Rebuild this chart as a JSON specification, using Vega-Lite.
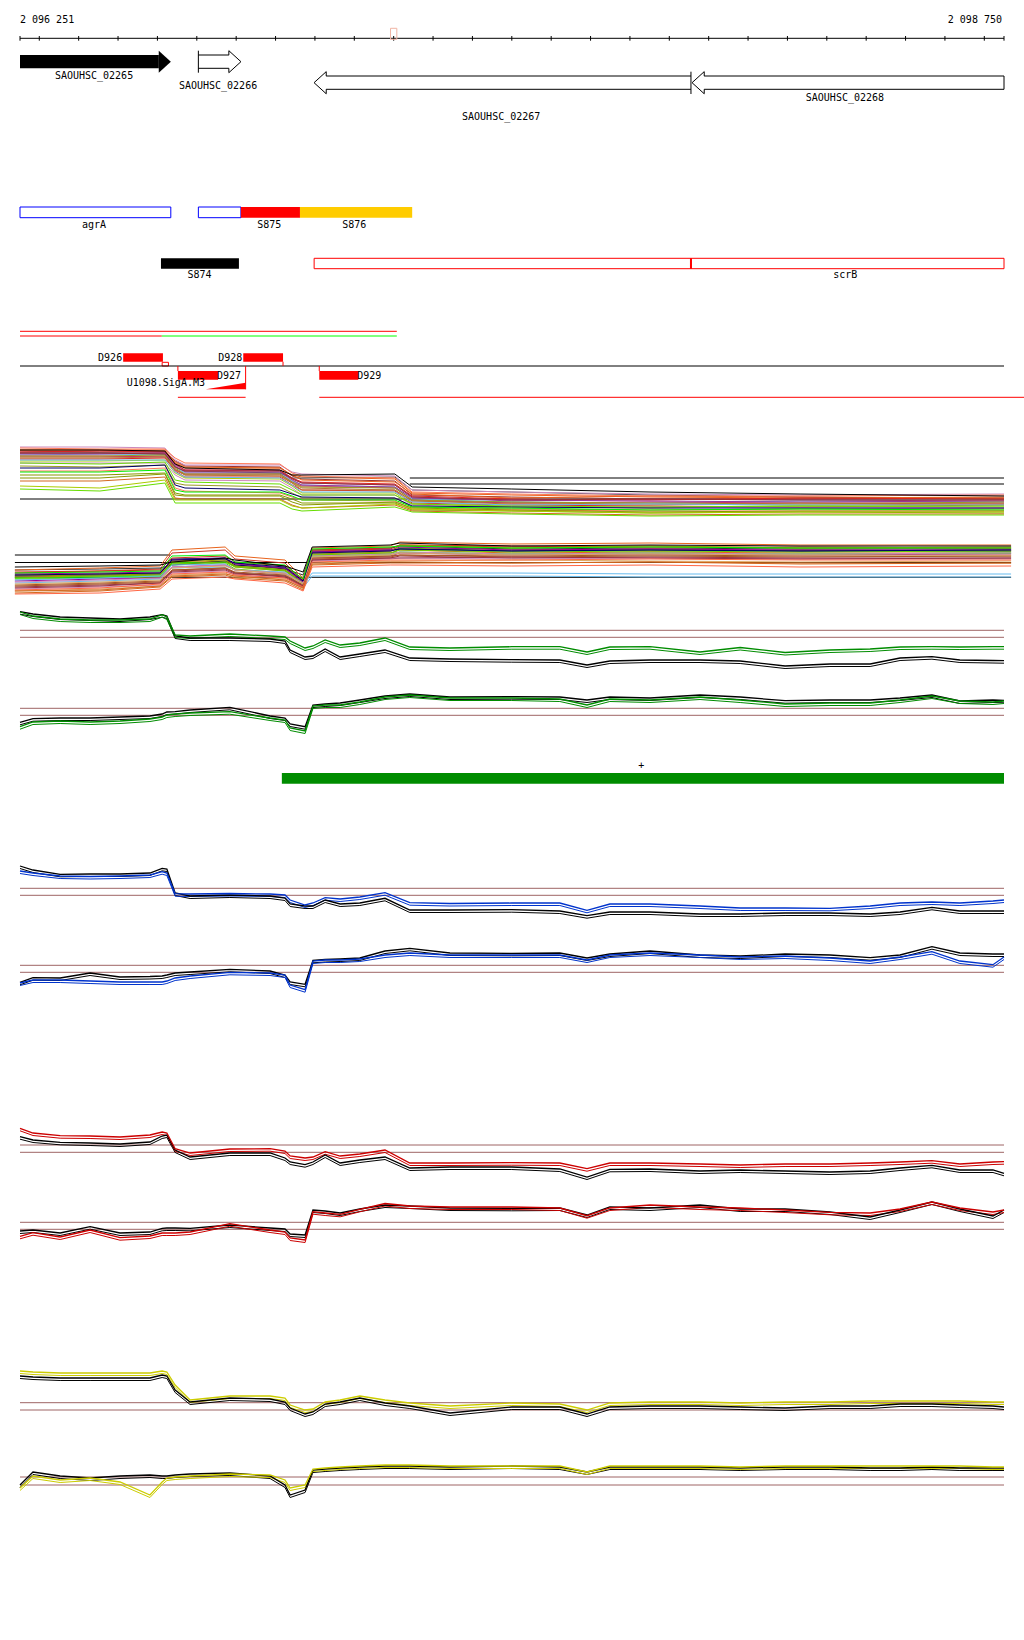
{
"$schema":"https://vega.github.io/schema/vega-lite/v6.json",
"width":1024,"height":1640,"padding":0,"autosize":"none","background":"white",
"config":{"view":{"stroke":null},"text":{"font":"DejaVu Sans Mono","fontSize":10,"color":"black"}},
"datasets":{
"genes":[
{"g":"SAOUHSC_02265","s":2096251,"e":2096634,"m":2096439,"str":"+"},
{"g":"SAOUHSC_02266","s":2096704,"e":2096812,"m":2096754,"str":"+"},
{"g":"SAOUHSC_02267","s":2096998,"e":2097955,"m":2097473,"str":"-"},
{"g":"SAOUHSC_02268","s":2097958,"e":2098750,"m":2098346,"str":"-"}],
"feat":[
{"f":"agrA","s":2096251,"e":2096634,"m":2096439},
{"f":"agr","s":2096704,"e":2096812,"m":2096758},
{"f":"S875","s":2096812,"e":2096962,"m":2096884},
{"f":"S876","s":2096962,"e":2097247,"m":2097100},
{"f":"S874","s":2096609,"e":2096807,"m":2096707},
{"f":"scrB","s":2096998,"e":2097955,"m":2097476},
{"f":"scrB","s":2097955,"e":2098750,"m":2098347},
{"f":"D926","s":2096513,"e":2096614,"m":2096563},
{"f":"D928","s":2096818,"e":2096919,"m":2096868},
{"f":"D927","s":2096652,"e":2096754,"m":2096703},
{"f":"D929","s":2097011,"e":2097110,"m":2097060}],
"cur":[
{"x":2096251,"gk_u":128.3,"gg_u":128,"gk_l":17.7,"gg_l":13.3,"bk_u":134,"bb_u":129,"bk_l":17.7,"bb_l":17,"rk_u":113.3,"rr_u":121.7,"rk_l":19,"rr_l":13.7,"yk_u":134,"yy_u":139,"yk_l":25,"yy_l":22},
{"x":2096284,"gk_u":126,"gg_u":124,"gk_l":21.3,"gg_l":18,"bk_u":130,"bb_u":127,"bk_l":22.3,"bb_l":20,"rk_u":110,"rr_u":117,"rk_l":20,"rr_l":17.3,"yk_u":133,"yy_u":138,"yk_l":38,"yy_l":34},
{"x":2096353,"gk_u":123,"gg_u":121,"gk_l":22,"gg_l":19,"bk_u":125.7,"bb_u":124,"bk_l":22,"bb_l":20,"rk_u":107.7,"rr_u":114.3,"rk_l":17,"rr_l":13,"yk_u":132,"yy_u":137,"yk_l":34,"yy_l":30},
{"x":2096429,"gk_u":122,"gg_u":120,"gk_l":22,"gg_l":18,"bk_u":126,"bb_u":123.5,"bk_l":27,"bb_l":19,"rk_u":107,"rr_u":114,"rk_l":23.3,"rr_l":20,"yk_u":132,"yy_u":137,"yk_l":32,"yy_l":32},
{"x":2096505,"gk_u":121,"gg_u":120,"gk_l":23,"gg_l":19,"bk_u":126,"bb_u":124,"bk_l":23,"bb_l":18,"rk_u":106,"rr_u":113,"rk_l":17,"rr_l":12.3,"yk_u":132,"yy_u":137,"yk_l":34,"yy_l":28},
{"x":2096581,"gk_u":123,"gg_u":121,"gk_l":24,"gg_l":21,"bk_u":127,"bb_u":125,"bk_l":23.5,"bb_l":18,"rk_u":108,"rr_u":115,"rk_l":18,"rr_l":14,"yk_u":132,"yy_u":137,"yk_l":35,"yy_l":15},
{"x":2096612,"gk_u":125.3,"gg_u":125.3,"gk_l":26,"gg_l":23,"bk_u":131.7,"bb_u":128.3,"bk_l":24,"bb_l":18,"rk_u":114,"rr_u":118,"rk_l":21.7,"rr_l":17,"yk_u":135,"yy_u":139,"yk_l":34,"yy_l":28},
{"x":2096624,"gk_u":124,"gg_u":123,"gk_l":28,"gg_l":25,"bk_u":131,"bb_u":127,"bk_l":25,"bb_l":19,"rk_u":115,"rr_u":117,"rk_l":22,"rr_l":17,"yk_u":134,"yy_u":138,"yk_l":34,"yy_l":32},
{"x":2096645,"gk_u":104,"gg_u":105,"gk_l":28.3,"gg_l":26,"bk_u":107,"bb_u":106.3,"bk_l":27,"bb_l":22,"rk_u":100,"rr_u":101.3,"rk_l":22,"rr_l":17,"yk_u":120,"yy_u":125,"yk_l":35,"yy_l":33},
{"x":2096683,"gk_u":102,"gg_u":104,"gk_l":30,"gg_l":27,"bk_u":104,"bb_u":106,"bk_l":28,"bb_l":24,"rk_u":93,"rr_u":97,"rk_l":21.7,"rr_l":18,"yk_u":108,"yy_u":110,"yk_l":36,"yy_l":34},
{"x":2096784,"gk_u":102,"gg_u":106,"gk_l":32.7,"gg_l":28.3,"bk_u":105,"bb_u":106.5,"bk_l":30.7,"bb_l":27.7,"rk_u":97,"rr_u":101,"rk_l":25,"rr_l":26.3,"yk_u":112,"yy_u":114,"yk_l":37,"yy_l":36},
{"x":2096886,"gk_u":101,"gg_u":104,"gk_l":24,"gg_l":22,"bk_u":104,"bb_u":106,"bk_l":29,"bb_l":27,"rk_u":97,"rr_u":101.3,"rk_l":22,"rr_l":20,"yk_u":111,"yy_u":114,"yk_l":34,"yy_l":35},
{"x":2096924,"gk_u":99,"gg_u":103,"gk_l":22,"gg_l":20,"bk_u":102,"bb_u":105,"bk_l":25,"bb_l":25,"rk_u":92,"rr_u":99,"rk_l":21,"rr_l":18,"yk_u":108,"yy_u":112,"yk_l":25,"yy_l":30},
{"x":2096937,"gk_u":90,"gg_u":99,"gk_l":16,"gg_l":12,"bk_u":96,"bb_u":100,"bk_l":18,"bb_l":15,"rk_u":88,"rr_u":94,"rk_l":16,"rr_l":12,"yk_u":102,"yy_u":105,"yk_l":15,"yy_l":22},
{"x":2096975,"gk_u":83,"gg_u":92,"gk_l":13.3,"gg_l":9,"bk_u":94,"bb_u":95,"bk_l":15.7,"bb_l":10.3,"rk_u":85.3,"rr_u":92,"rk_l":15,"rr_l":10,"yk_u":96,"yy_u":100,"yk_l":20,"yy_l":25},
{"x":2096995,"gk_u":84,"gg_u":94,"gk_l":35,"gg_l":34,"bk_u":94,"bb_u":97,"bk_l":39.7,"bb_l":39,"rk_u":88,"rr_u":93,"rk_l":40,"rr_l":38.3,"yk_u":98,"yy_u":101,"yk_l":40,"yy_l":41},
{"x":2097026,"gk_u":91,"gg_u":100,"gk_l":36,"gg_l":35,"bk_u":100,"bb_u":102.3,"bk_l":40.5,"bb_l":40,"rk_u":95,"rr_u":98.3,"rk_l":39,"rr_l":37,"yk_u":106,"yy_u":108,"yk_l":41,"yy_l":42},
{"x":2097064,"gk_u":83,"gg_u":95,"gk_l":37,"gg_l":35,"bk_u":96,"bb_u":101,"bk_l":41,"bb_l":40,"rk_u":87,"rr_u":94,"rk_l":37,"rr_l":35.7,"yk_u":108,"yy_u":110,"yk_l":42,"yy_l":43},
{"x":2097114,"gk_u":86,"gg_u":97,"gk_l":40,"gg_l":38,"bk_u":97,"bb_u":103,"bk_l":42,"bb_l":41,"rk_u":90,"rr_u":96,"rk_l":41,"rr_l":40.7,"yk_u":112,"yy_u":114,"yk_l":43,"yy_l":44},
{"x":2097178,"gk_u":90,"gg_u":102,"gk_l":44,"gg_l":43,"bk_u":101.7,"bb_u":107.3,"bk_l":49,"bb_l":45,"rk_u":93,"rr_u":100,"rk_l":45,"rr_l":46.5,"yk_u":107,"yy_u":110,"yk_l":44,"yy_l":45},
{"x":2097241,"gk_u":82,"gg_u":93,"gk_l":46,"gg_l":45,"bk_u":90,"bb_u":97.3,"bk_l":51.7,"bb_l":47,"rk_u":82,"rr_u":87,"rk_l":44,"rr_l":44,"yk_u":104,"yy_u":107,"yk_l":44,"yy_l":45},
{"x":2097343,"gk_u":81,"gg_u":92,"gk_l":43,"gg_l":42,"bk_u":90,"bb_u":96.5,"bk_l":47,"bb_l":45,"rk_u":83,"rr_u":87,"rk_l":42,"rr_l":43,"yk_u":97,"yy_u":104,"yk_l":43,"yy_l":44},
{"x":2097500,"gk_u":80.3,"gg_u":93.3,"gk_l":43.3,"gg_l":42,"bk_u":90.3,"bb_u":97,"bk_l":46.7,"bb_l":45,"rk_u":83,"rr_u":87.3,"rk_l":41.7,"rr_l":43,"yk_u":103,"yy_u":107,"yk_l":44,"yy_l":44},
{"x":2097622,"gk_u":80,"gg_u":93.3,"gk_l":43,"gg_l":41,"bk_u":89,"bb_u":97,"bk_l":47,"bb_l":45,"rk_u":81,"rr_u":87,"rk_l":42,"rr_l":42,"yk_u":103,"yy_u":106,"yk_l":43,"yy_l":44},
{"x":2097691,"gk_u":75,"gg_u":88,"gk_l":40,"gg_l":35,"bk_u":84.3,"bb_u":89.7,"bk_l":42,"bb_l":40,"rk_u":73,"rr_u":81.3,"rk_l":35,"rr_l":34.3,"yk_u":96,"yy_u":100,"yk_l":38,"yy_l":38},
{"x":2097749,"gk_u":79,"gg_u":93,"gk_l":43,"gg_l":41,"bk_u":88,"bb_u":96,"bk_l":46,"bb_l":45,"rk_u":80.7,"rr_u":87,"rk_l":43,"rr_l":42,"yk_u":103,"yy_u":107,"yk_l":43,"yy_l":44},
{"x":2097851,"gk_u":80,"gg_u":93.3,"gk_l":42,"gg_l":40,"bk_u":88,"bb_u":96,"bk_l":49,"bb_l":47,"rk_u":81,"rr_u":87,"rk_l":42,"rr_l":45,"yk_u":104,"yy_u":108,"yk_l":43,"yy_l":44},
{"x":2097978,"gk_u":80,"gg_u":88,"gk_l":45,"gg_l":43,"bk_u":86,"bb_u":94,"bk_l":45,"bb_l":45,"rk_u":79,"rr_u":86,"rk_l":45,"rr_l":43,"yk_u":104,"yy_u":108,"yk_l":43,"yy_l":44},
{"x":2098080,"gk_u":79,"gg_u":92.5,"gk_l":43,"gg_l":40,"bk_u":86,"bb_u":92,"bk_l":44,"bb_l":43,"rk_u":80,"rr_u":85,"rk_l":41,"rr_l":42,"yk_u":103,"yy_u":107,"yk_l":42,"yy_l":43},
{"x":2098194,"gk_u":74,"gg_u":87.5,"gk_l":39.3,"gg_l":36,"bk_u":87,"bb_u":92,"bk_l":46,"bb_l":44,"rk_u":79,"rr_u":86,"rk_l":41,"rr_l":40,"yk_u":102,"yy_u":108,"yk_l":43,"yy_l":44},
{"x":2098308,"gk_u":76,"gg_u":90,"gk_l":40,"gg_l":37,"bk_u":87,"bb_u":91.7,"bk_l":45,"bb_l":42,"rk_u":78,"rr_u":86,"rk_l":38,"rr_l":37.7,"yk_u":104,"yy_u":108,"yk_l":43,"yy_l":44},
{"x":2098410,"gk_u":76,"gg_u":91,"gk_l":40,"gg_l":37,"bk_u":86,"bb_u":94,"bk_l":42.3,"bb_l":39,"rk_u":79,"rr_u":87,"rk_l":33,"rr_l":37,"yk_u":104,"yy_u":109,"yk_l":42,"yy_l":44},
{"x":2098486,"gk_u":82,"gg_u":93,"gk_l":42,"gg_l":40,"bk_u":88,"bb_u":97,"bk_l":45,"bb_l":43,"rk_u":82,"rr_u":88,"rk_l":40,"rr_l":41,"yk_u":106,"yy_u":109,"yk_l":42,"yy_l":44},
{"x":2098567,"gk_u":83.3,"gg_u":93.3,"gk_l":45,"gg_l":44,"bk_u":92.7,"bb_u":98,"bk_l":53.3,"bb_l":48.3,"rk_u":84.7,"rr_u":89.3,"rk_l":48,"rr_l":48,"yk_u":106,"yy_u":109,"yk_l":43,"yy_l":44},
{"x":2098638,"gk_u":80,"gg_u":93,"gk_l":39,"gg_l":39,"bk_u":89,"bb_u":97,"bk_l":47,"bb_l":39,"rk_u":80,"rr_u":86,"rk_l":41,"rr_l":42,"yk_u":105,"yy_u":109,"yk_l":42,"yy_l":44},
{"x":2098722,"gk_u":79.5,"gg_u":93.3,"gk_l":40,"gg_l":38,"bk_u":89,"bb_u":99,"bk_l":46,"bb_l":35.3,"rk_u":80,"rr_u":88,"rk_l":34,"rr_l":38,"yk_u":104,"yy_u":108,"yk_l":42,"yy_l":43},
{"x":2098750,"gk_u":79.3,"gg_u":93.3,"gk_l":39.7,"gg_l":39,"bk_u":89,"bb_u":100,"bk_l":46,"bb_l":43,"rk_u":76.7,"rr_u":88.3,"rk_l":40,"rr_l":40,"yk_u":103,"yy_u":108,"yk_l":42,"yy_l":43}],
"top":[
{"x":2096251,"t1":73,"t2":70,"t3":68,"t4":66,"t5":64,"t6":62,"t7":60,"t8":57,"t9":52,"t10":48,"t11":42,"t12":34,"t13":72,"t14":67,"t15":70},
{"x":2096454,"t1":73,"t2":70,"t3":69,"t4":66,"t5":64,"t6":62,"t7":60,"t8":56,"t9":52,"t10":48,"t11":42,"t12":32,"t13":71,"t14":67,"t15":70},
{"x":2096619,"t1":72,"t2":70,"t3":68,"t4":67,"t5":65,"t6":63,"t7":60,"t8":58,"t9":55,"t10":50,"t11":46,"t12":40,"t13":71,"t14":66,"t15":69},
{"x":2096645,"t1":60,"t2":58,"t3":56,"t4":54,"t5":52,"t6":50,"t7":48,"t8":40,"t9":35,"t10":30,"t11":25,"t12":20,"t13":62,"t14":53,"t15":56},
{"x":2096670,"t1":55,"t2":53,"t3":50,"t4":48,"t5":46,"t6":45,"t7":43,"t8":38,"t9":32,"t10":28,"t11":24,"t12":20,"t13":57,"t14":49,"t15":52},
{"x":2096911,"t1":55,"t2":52,"t3":50,"t4":48,"t5":46,"t6":44,"t7":42,"t8":36,"t9":30,"t10":28,"t11":24,"t12":20,"t13":56,"t14":49,"t15":50},
{"x":2096942,"t1":48,"t2":45,"t3":42,"t4":40,"t5":38,"t6":37,"t7":35,"t8":30,"t9":26,"t10":24,"t11":18,"t12":14,"t13":47,"t14":41,"t15":45},
{"x":2096967,"t1":46,"t2":40,"t3":38,"t4":35,"t5":33,"t6":30,"t7":28,"t8":25,"t9":23,"t10":20,"t11":15,"t12":12,"t13":44,"t14":37,"t15":45},
{"x":2097203,"t1":44,"t2":38,"t3":36,"t4":33,"t5":32,"t6":30,"t7":28,"t8":25,"t9":22,"t10":20,"t11":18,"t12":16,"t13":42,"t14":35,"t15":46},
{"x":2097247,"t1":30,"t2":26,"t3":24,"t4":22,"t5":20,"t6":19,"t7":18,"t8":16,"t9":14,"t10":13,"t11":12,"t12":11,"t13":28,"t14":23,"t15":33},
{"x":2097500,"t1":28,"t2":22,"t3":21,"t4":20,"t5":18,"t6":16,"t7":15,"t8":14,"t9":13,"t10":12,"t11":10,"t12":9,"t13":26,"t14":20,"t15":31},
{"x":2097851,"t1":26,"t2":24,"t3":20,"t4":19,"t5":17,"t6":15,"t7":16,"t8":13,"t9":12,"t10":10,"t11":8,"t12":7,"t13":24,"t14":21,"t15":28},
{"x":2098232,"t1":25,"t2":23,"t3":22,"t4":18,"t5":16,"t6":17,"t7":15,"t8":14,"t9":12,"t10":11,"t11":9,"t12":8,"t13":24,"t14":20,"t15":26},
{"x":2098750,"t1":26,"t2":22,"t3":21,"t4":19,"t5":18,"t6":16,"t7":15,"t8":14,"t9":12,"t10":10,"t11":9,"t12":8,"t13":25,"t14":20,"t15":24}],
"bot":[
{"x":2096238,"b1":30,"b2":28,"b3":26,"b4":24,"b5":22,"b6":20,"b7":18,"b8":14,"b9":16,"b10":12,"b11":10,"b12":9,"b13":25,"b14":27,"b15":33},
{"x":2096454,"b1":32,"b2":29,"b3":27,"b4":25,"b5":24,"b6":22,"b7":20,"b8":16,"b9":18,"b10":14,"b11":12,"b12":10,"b13":26,"b14":28,"b15":34},
{"x":2096607,"b1":34,"b2":30,"b3":28,"b4":26,"b5":25,"b6":24,"b7":22,"b8":18,"b9":20,"b10":17,"b11":16,"b12":14,"b13":27,"b14":29,"b15":35},
{"x":2096637,"b1":50,"b2":42,"b3":40,"b4":38,"b5":36,"b6":35,"b7":33,"b8":30,"b9":32,"b10":28,"b11":26,"b12":24,"b13":40,"b14":44,"b15":38},
{"x":2096772,"b1":53,"b2":44,"b3":42,"b4":40,"b5":38,"b6":36,"b7":35,"b8":32,"b9":34,"b10":30,"b11":28,"b12":26,"b13":41,"b14":45,"b15":42},
{"x":2096797,"b1":44,"b2":38,"b3":36,"b4":34,"b5":33,"b6":30,"b7":30,"b8":28,"b9":30,"b10":26,"b11":25,"b12":24,"b13":37,"b14":38,"b15":40},
{"x":2096924,"b1":40,"b2":34,"b3":32,"b4":30,"b5":29,"b6":28,"b7":27,"b8":25,"b9":26,"b10":24,"b11":22,"b12":20,"b13":33,"b14":35,"b15":34},
{"x":2096970,"b1":22,"b2":20,"b3":18,"b4":16,"b5":17,"b6":15,"b7":17,"b8":15,"b9":16,"b10":14,"b11":13,"b12":12,"b13":19,"b14":21,"b15":28},
{"x":2096993,"b1":52,"b2":50,"b3":48,"b4":46,"b5":45,"b6":27,"b7":44,"b8":42,"b9":43,"b10":40,"b11":38,"b12":36,"b13":47,"b14":51,"b15":53},
{"x":2097191,"b1":54,"b2":52,"b3":50,"b4":48,"b5":47,"b6":27,"b7":46,"b8":44,"b9":45,"b10":42,"b11":40,"b12":38,"b13":49,"b14":53,"b15":55},
{"x":2097216,"b1":58,"b2":55,"b3":53,"b4":55,"b5":50,"b6":27,"b7":48,"b8":45,"b9":47,"b10":42,"b11":40,"b12":38,"b13":51,"b14":54,"b15":57},
{"x":2097500,"b1":56,"b2":54,"b3":50,"b4":52,"b5":48,"b6":27,"b7":46,"b8":44,"b9":45,"b10":43,"b11":40,"b12":37,"b13":49,"b14":52,"b15":54},
{"x":2097851,"b1":57,"b2":52,"b3":51,"b4":54,"b5":49,"b6":26,"b7":47,"b8":45,"b9":46,"b10":42,"b11":41,"b12":38,"b13":50,"b14":53,"b15":55},
{"x":2098232,"b1":55,"b2":53,"b3":50,"b4":52,"b5":48,"b6":26,"b7":46,"b8":44,"b9":45,"b10":41,"b11":40,"b12":36,"b13":49,"b14":52,"b15":54},
{"x":2098768,"b1":55,"b2":52,"b3":50,"b4":53,"b5":49,"b6":26,"b7":47,"b8":44,"b9":45,"b10":42,"b11":40,"b12":37,"b13":50,"b14":52,"b15":54}]
},
"resolve":{"scale":{"y":"independent","color":"independent"}},
"layer":[
{"layer":[
 {"data":{"values":[{"x":2096251},{"x":2096300},{"x":2096400},{"x":2096500},{"x":2096600},{"x":2096700},{"x":2096800},{"x":2096900},{"x":2097000},{"x":2097100},{"x":2097200},{"x":2097300},{"x":2097400},{"x":2097500},{"x":2097600},{"x":2097700},{"x":2097800},{"x":2097900},{"x":2098000},{"x":2098100},{"x":2098200},{"x":2098300},{"x":2098400},{"x":2098500},{"x":2098600},{"x":2098700},{"x":2098750}]},
  "mark":{"type":"rule","color":"black","strokeWidth":1},
  "encoding":{"x":{"field":"x","type":"quantitative","scale":{"domain":[2096251,2098750],"range":[20,1004],"nice":false,"zero":false},"axis":null},
   "y":{"datum":10,"type":"quantitative","scale":{"domain":[0,46],"range":[46,0],"nice":false},"axis":null},"y2":{"datum":5.3}}},
 {"data":{"values":[{"x":2096251,"x2":2098750}]},
  "mark":{"type":"rule","color":"black","strokeWidth":1},
  "encoding":{"x":{"field":"x","type":"quantitative","scale":{"domain":[2096251,2098750],"range":[20,1004],"nice":false,"zero":false},"axis":null},"x2":{"field":"x2"},
   "y":{"datum":7.7,"type":"quantitative","scale":{"domain":[0,46],"range":[46,0],"nice":false},"axis":null}}},
 {"data":{"values":[{"x":2096251,"t":"2 096 251"}]},
  "mark":{"type":"text","align":"left","baseline":"middle"},
  "encoding":{"x":{"field":"x","type":"quantitative","scale":{"domain":[2096251,2098750],"range":[20,1004],"nice":false,"zero":false},"axis":null},
   "y":{"datum":26,"type":"quantitative","scale":{"domain":[0,46],"range":[46,0],"nice":false},"axis":null},"text":{"field":"t"}}},
 {"data":{"values":[{"x":2098750,"t":"2 098 750"}]},
  "mark":{"type":"text","align":"right","baseline":"middle","dx":-2},
  "encoding":{"x":{"field":"x","type":"quantitative","scale":{"domain":[2096251,2098750],"range":[20,1004],"nice":false,"zero":false},"axis":null},
   "y":{"datum":26,"type":"quantitative","scale":{"domain":[0,46],"range":[46,0],"nice":false},"axis":null},"text":{"field":"t"}}},
 {"data":{"values":[{"x":2097192,"x2":2097208}]},
  "mark":{"type":"rect","fillOpacity":0,"stroke":"#F0B4A4","strokeWidth":1},
  "encoding":{"x":{"field":"x","type":"quantitative","scale":{"domain":[2096251,2098750],"range":[20,1004],"nice":false,"zero":false},"axis":null},"x2":{"field":"x2"},
   "y":{"datum":17.7,"type":"quantitative","scale":{"domain":[0,46],"range":[46,0],"nice":false},"axis":null},"y2":{"datum":6.7}}}
]},
{"layer":[
 {"data":{"name":"genes"},"transform":[{"filter":"datum.g=='SAOUHSC_02265'"}],
  "mark":{"type":"rect","color":"black","x2Offset":-12},
  "encoding":{"x":{"field":"s","type":"quantitative","scale":{"domain":[2096251,2098750],"range":[20,1004],"nice":false,"zero":false},"axis":null},"x2":{"field":"e"},
   "y":{"datum":75,"type":"quantitative","scale":{"domain":[0,100],"range":[130,30],"nice":false},"axis":null},"y2":{"datum":61.7}}},
 {"data":{"name":"genes"},"transform":[{"filter":"datum.g=='SAOUHSC_02265'"}],
  "mark":{"type":"point","shape":"M -0.55 -1 L 0.55 0 L -0.55 1 Z","size":484,"filled":true,"color":"black","opacity":1,"xOffset":-6},
  "encoding":{"x":{"field":"e","type":"quantitative","scale":{"domain":[2096251,2098750],"range":[20,1004],"nice":false,"zero":false},"axis":null},
   "y":{"datum":68.3,"type":"quantitative","scale":{"domain":[0,100],"range":[130,30],"nice":false},"axis":null}}},
 {"data":{"name":"genes"},"transform":[{"filter":"datum.g=='SAOUHSC_02266'"}],
  "mark":{"type":"rule","color":"black","x2Offset":-12},
  "encoding":{"x":{"field":"s","type":"quantitative","scale":{"domain":[2096251,2098750],"range":[20,1004],"nice":false,"zero":false},"axis":null},"x2":{"field":"e"},
   "y":{"datum":75,"type":"quantitative","scale":{"domain":[0,100],"range":[130,30],"nice":false},"axis":null}}},
 {"data":{"name":"genes"},"transform":[{"filter":"datum.g=='SAOUHSC_02266'"}],
  "mark":{"type":"rule","color":"black","x2Offset":-12},
  "encoding":{"x":{"field":"s","type":"quantitative","scale":{"domain":[2096251,2098750],"range":[20,1004],"nice":false,"zero":false},"axis":null},"x2":{"field":"e"},
   "y":{"datum":61.7,"type":"quantitative","scale":{"domain":[0,100],"range":[130,30],"nice":false},"axis":null}}},
 {"data":{"name":"genes"},"transform":[{"filter":"datum.g=='SAOUHSC_02266'"}],
  "mark":{"type":"rule","color":"black"},
  "encoding":{"x":{"field":"s","type":"quantitative","scale":{"domain":[2096251,2098750],"range":[20,1004],"nice":false,"zero":false},"axis":null},
   "y":{"datum":79.3,"type":"quantitative","scale":{"domain":[0,100],"range":[130,30],"nice":false},"axis":null},"y2":{"datum":57.3}}},
 {"data":{"name":"genes"},"transform":[{"filter":"datum.g=='SAOUHSC_02266'"}],
  "mark":{"type":"point","shape":"M -0.55 -0.6 L -0.55 -1 L 0.55 0 L -0.55 1 L -0.55 0.6","size":484,"filled":false,"color":"black","opacity":1,"strokeWidth":1,"xOffset":-6},
  "encoding":{"x":{"field":"e","type":"quantitative","scale":{"domain":[2096251,2098750],"range":[20,1004],"nice":false,"zero":false},"axis":null},
   "y":{"datum":68.3,"type":"quantitative","scale":{"domain":[0,100],"range":[130,30],"nice":false},"axis":null}}},
 {"data":{"name":"genes"},"transform":[{"filter":"datum.str=='-'"}],
  "mark":{"type":"rule","color":"black","xOffset":12},
  "encoding":{"x":{"field":"s","type":"quantitative","scale":{"domain":[2096251,2098750],"range":[20,1004],"nice":false,"zero":false},"axis":null},"x2":{"field":"e"},
   "y":{"datum":54,"type":"quantitative","scale":{"domain":[0,100],"range":[130,30],"nice":false},"axis":null}}},
 {"data":{"name":"genes"},"transform":[{"filter":"datum.str=='-'"}],
  "mark":{"type":"rule","color":"black","xOffset":12},
  "encoding":{"x":{"field":"s","type":"quantitative","scale":{"domain":[2096251,2098750],"range":[20,1004],"nice":false,"zero":false},"axis":null},"x2":{"field":"e"},
   "y":{"datum":40.7,"type":"quantitative","scale":{"domain":[0,100],"range":[130,30],"nice":false},"axis":null}}},
 {"data":{"name":"genes"},"transform":[{"filter":"datum.str=='-'"}],
  "mark":{"type":"point","shape":"M 0.55 -0.6 L 0.55 -1 L -0.55 0 L 0.55 1 L 0.55 0.6","size":490,"filled":false,"color":"black","opacity":1,"strokeWidth":1,"xOffset":6},
  "encoding":{"x":{"field":"s","type":"quantitative","scale":{"domain":[2096251,2098750],"range":[20,1004],"nice":false,"zero":false},"axis":null},
   "y":{"datum":47.3,"type":"quantitative","scale":{"domain":[0,100],"range":[130,30],"nice":false},"axis":null}}},
 {"data":{"name":"genes"},"transform":[{"filter":"datum.g=='SAOUHSC_02267'"}],
  "mark":{"type":"rule","color":"black"},
  "encoding":{"x":{"field":"e","type":"quantitative","scale":{"domain":[2096251,2098750],"range":[20,1004],"nice":false,"zero":false},"axis":null},
   "y":{"datum":58.3,"type":"quantitative","scale":{"domain":[0,100],"range":[130,30],"nice":false},"axis":null},"y2":{"datum":36}}},
 {"data":{"name":"genes"},"transform":[{"filter":"datum.g=='SAOUHSC_02268'"}],
  "mark":{"type":"rule","color":"black"},
  "encoding":{"x":{"field":"e","type":"quantitative","scale":{"domain":[2096251,2098750],"range":[20,1004],"nice":false,"zero":false},"axis":null},
   "y":{"datum":54,"type":"quantitative","scale":{"domain":[0,100],"range":[130,30],"nice":false},"axis":null},"y2":{"datum":40.7}}},
 {"data":{"name":"genes"},"transform":[{"filter":"datum.g=='SAOUHSC_02265'"}],
  "mark":{"type":"text","align":"center","baseline":"middle"},
  "encoding":{"x":{"field":"m","type":"quantitative","scale":{"domain":[2096251,2098750],"range":[20,1004],"nice":false,"zero":false},"axis":null},
   "y":{"datum":53.7,"type":"quantitative","scale":{"domain":[0,100],"range":[130,30],"nice":false},"axis":null},"text":{"field":"g"}}},
 {"data":{"name":"genes"},"transform":[{"filter":"datum.g=='SAOUHSC_02266'"}],
  "mark":{"type":"text","align":"center","baseline":"middle"},
  "encoding":{"x":{"field":"m","type":"quantitative","scale":{"domain":[2096251,2098750],"range":[20,1004],"nice":false,"zero":false},"axis":null},
   "y":{"datum":44.5,"type":"quantitative","scale":{"domain":[0,100],"range":[130,30],"nice":false},"axis":null},"text":{"field":"g"}}},
 {"data":{"name":"genes"},"transform":[{"filter":"datum.g=='SAOUHSC_02267'"}],
  "mark":{"type":"text","align":"center","baseline":"middle"},
  "encoding":{"x":{"field":"m","type":"quantitative","scale":{"domain":[2096251,2098750],"range":[20,1004],"nice":false,"zero":false},"axis":null},
   "y":{"datum":13,"type":"quantitative","scale":{"domain":[0,100],"range":[130,30],"nice":false},"axis":null},"text":{"field":"g"}}},
 {"data":{"name":"genes"},"transform":[{"filter":"datum.g=='SAOUHSC_02268'"}],
  "mark":{"type":"text","align":"center","baseline":"middle"},
  "encoding":{"x":{"field":"m","type":"quantitative","scale":{"domain":[2096251,2098750],"range":[20,1004],"nice":false,"zero":false},"axis":null},
   "y":{"datum":32,"type":"quantitative","scale":{"domain":[0,100],"range":[130,30],"nice":false},"axis":null},"text":{"field":"g"}}}
]},
{"layer":[
 {"data":{"name":"feat"},"transform":[{"filter":"datum.f=='agrA'||datum.f=='agr'"}],
  "mark":{"type":"rect","fillOpacity":0,"stroke":"#0000FF","strokeWidth":1},
  "encoding":{"x":{"field":"s","type":"quantitative","scale":{"domain":[2096251,2098750],"range":[20,1004],"nice":false,"zero":false},"axis":null},"x2":{"field":"e"},
   "y":{"datum":193,"type":"quantitative","scale":{"domain":[0,200],"range":[400,200],"nice":false},"axis":null},"y2":{"datum":182.3}}},
 {"data":{"name":"feat"},"transform":[{"filter":"datum.f=='S875'||datum.f=='S876'"}],
  "mark":{"type":"rect"},
  "encoding":{"x":{"field":"s","type":"quantitative","scale":{"domain":[2096251,2098750],"range":[20,1004],"nice":false,"zero":false},"axis":null},"x2":{"field":"e"},
   "y":{"datum":193,"type":"quantitative","scale":{"domain":[0,200],"range":[400,200],"nice":false},"axis":null},"y2":{"datum":182.3},
   "color":{"field":"f","type":"nominal","scale":{"domain":["S875","S876","S874","D926","D927","D928","D929"],"range":["#FF0000","#FFCC00","#000000","#FF0000","#FF0000","#FF0000","#FF0000"]},"legend":null}}},
 {"data":{"name":"feat"},"transform":[{"filter":"datum.f=='S874'"}],
  "mark":{"type":"rect"},
  "encoding":{"x":{"field":"s","type":"quantitative","scale":{"domain":[2096251,2098750],"range":[20,1004],"nice":false,"zero":false},"axis":null},"x2":{"field":"e"},
   "y":{"datum":141.7,"type":"quantitative","scale":{"domain":[0,200],"range":[400,200],"nice":false},"axis":null},"y2":{"datum":131.3},
   "color":{"field":"f","type":"nominal","scale":{"domain":["S875","S876","S874","D926","D927","D928","D929"],"range":["#FF0000","#FFCC00","#000000","#FF0000","#FF0000","#FF0000","#FF0000"]},"legend":null}}},
 {"data":{"name":"feat"},"transform":[{"filter":"datum.f=='scrB'"}],
  "mark":{"type":"rect","fillOpacity":0,"stroke":"#FF0000","strokeWidth":1},
  "encoding":{"x":{"field":"s","type":"quantitative","scale":{"domain":[2096251,2098750],"range":[20,1004],"nice":false,"zero":false},"axis":null},"x2":{"field":"e"},
   "y":{"datum":141.7,"type":"quantitative","scale":{"domain":[0,200],"range":[400,200],"nice":false},"axis":null},"y2":{"datum":131.3}}},
 {"data":{"name":"feat"},"transform":[{"filter":"datum.f=='scrB'&&datum.s>2097900"}],
  "mark":{"type":"rule","color":"#FF0000","strokeWidth":2},
  "encoding":{"x":{"field":"s","type":"quantitative","scale":{"domain":[2096251,2098750],"range":[20,1004],"nice":false,"zero":false},"axis":null},
   "y":{"datum":141.7,"type":"quantitative","scale":{"domain":[0,200],"range":[400,200],"nice":false},"axis":null},"y2":{"datum":131.3}}},
 {"data":{"name":"feat"},"transform":[{"filter":"datum.f=='D926'||datum.f=='D928'"}],
  "mark":{"type":"rect"},
  "encoding":{"x":{"field":"s","type":"quantitative","scale":{"domain":[2096251,2098750],"range":[20,1004],"nice":false,"zero":false},"axis":null},"x2":{"field":"e"},
   "y":{"datum":46.7,"type":"quantitative","scale":{"domain":[0,200],"range":[400,200],"nice":false},"axis":null},"y2":{"datum":38.3},
   "color":{"field":"f","type":"nominal","scale":{"domain":["S875","S876","S874","D926","D927","D928","D929"],"range":["#FF0000","#FFCC00","#000000","#FF0000","#FF0000","#FF0000","#FF0000"]},"legend":null}}},
 {"data":{"name":"feat"},"transform":[{"filter":"datum.f=='D927'||datum.f=='D929'"}],
  "mark":{"type":"rect"},
  "encoding":{"x":{"field":"s","type":"quantitative","scale":{"domain":[2096251,2098750],"range":[20,1004],"nice":false,"zero":false},"axis":null},"x2":{"field":"e"},
   "y":{"datum":29,"type":"quantitative","scale":{"domain":[0,200],"range":[400,200],"nice":false},"axis":null},"y2":{"datum":20.3},
   "color":{"field":"f","type":"nominal","scale":{"domain":["S875","S876","S874","D926","D927","D928","D929"],"range":["#FF0000","#FFCC00","#000000","#FF0000","#FF0000","#FF0000","#FF0000"]},"legend":null}}},
 {"data":{"values":[{"s":2096612,"e":2096628}]},
  "mark":{"type":"rect","fillOpacity":0,"stroke":"#FF0000","strokeWidth":1},
  "encoding":{"x":{"field":"s","type":"quantitative","scale":{"domain":[2096251,2098750],"range":[20,1004],"nice":false,"zero":false},"axis":null},"x2":{"field":"e"},
   "y":{"datum":37.7,"type":"quantitative","scale":{"domain":[0,200],"range":[400,200],"nice":false},"axis":null},"y2":{"datum":34}}},
 {"data":{"values":[{"s":2096251,"e":2097208}]},
  "mark":{"type":"rule","color":"#FF0000"},
  "encoding":{"x":{"field":"s","type":"quantitative","scale":{"domain":[2096251,2098750],"range":[20,1004],"nice":false,"zero":false},"axis":null},"x2":{"field":"e"},
   "y":{"datum":68.7,"type":"quantitative","scale":{"domain":[0,200],"range":[400,200],"nice":false},"axis":null}}},
 {"data":{"values":[{"s":2096251,"e":2096611}]},
  "mark":{"type":"rule","color":"#FF0000"},
  "encoding":{"x":{"field":"s","type":"quantitative","scale":{"domain":[2096251,2098750],"range":[20,1004],"nice":false,"zero":false},"axis":null},"x2":{"field":"e"},
   "y":{"datum":64,"type":"quantitative","scale":{"domain":[0,200],"range":[400,200],"nice":false},"axis":null}}},
 {"data":{"values":[{"s":2096611,"e":2097208}]},
  "mark":{"type":"rule","color":"#00FF00"},
  "encoding":{"x":{"field":"s","type":"quantitative","scale":{"domain":[2096251,2098750],"range":[20,1004],"nice":false,"zero":false},"axis":null},"x2":{"field":"e"},
   "y":{"datum":64,"type":"quantitative","scale":{"domain":[0,200],"range":[400,200],"nice":false},"axis":null}}},
 {"data":{"values":[{"s":2096251,"e":2098750}]},
  "mark":{"type":"rule","color":"black"},
  "encoding":{"x":{"field":"s","type":"quantitative","scale":{"domain":[2096251,2098750],"range":[20,1004],"nice":false,"zero":false},"axis":null},"x2":{"field":"e"},
   "y":{"datum":34,"type":"quantitative","scale":{"domain":[0,200],"range":[400,200],"nice":false},"axis":null}}},
 {"data":{"values":[{"s":2096652,"e":2096824},{"s":2097011,"e":2098801}]},
  "mark":{"type":"rule","color":"#FF0000"},
  "encoding":{"x":{"field":"s","type":"quantitative","scale":{"domain":[2096251,2098750],"range":[20,1004],"nice":false,"zero":false},"axis":null},"x2":{"field":"e"},
   "y":{"datum":2.7,"type":"quantitative","scale":{"domain":[0,200],"range":[400,200],"nice":false},"axis":null}}},
 {"data":{"name":"feat"},"transform":[{"filter":"datum.f=='D928'"}],
  "mark":{"type":"rule","color":"#FF0000"},
  "encoding":{"x":{"field":"e","type":"quantitative","scale":{"domain":[2096251,2098750],"range":[20,1004],"nice":false,"zero":false},"axis":null},
   "y":{"datum":38.3,"type":"quantitative","scale":{"domain":[0,200],"range":[400,200],"nice":false},"axis":null},"y2":{"datum":34}}},
 {"data":{"name":"feat"},"transform":[{"filter":"datum.f=='D927'||datum.f=='D929'"}],
  "mark":{"type":"rule","color":"#FF0000"},
  "encoding":{"x":{"field":"s","type":"quantitative","scale":{"domain":[2096251,2098750],"range":[20,1004],"nice":false,"zero":false},"axis":null},
   "y":{"datum":34,"type":"quantitative","scale":{"domain":[0,200],"range":[400,200],"nice":false},"axis":null},"y2":{"datum":29}}},
 {"data":{"values":[{"s":2096824}]},
  "mark":{"type":"rule","color":"#FF0000"},
  "encoding":{"x":{"field":"s","type":"quantitative","scale":{"domain":[2096251,2098750],"range":[20,1004],"nice":false,"zero":false},"axis":null},
   "y":{"datum":34,"type":"quantitative","scale":{"domain":[0,200],"range":[400,200],"nice":false},"axis":null},"y2":{"datum":10.7}}},
 {"data":{"values":[{"x":2096723,"h":10.7},{"x":2096824,"h":17.3}]},
  "mark":{"type":"area","color":"#FF0000","opacity":1},
  "encoding":{"x":{"field":"x","type":"quantitative","scale":{"domain":[2096251,2098750],"range":[20,1004],"nice":false,"zero":false},"axis":null},
   "y":{"field":"h","type":"quantitative","scale":{"domain":[0,200],"range":[400,200],"nice":false},"axis":null},"y2":{"datum":10.7}}},
 {"data":{"name":"feat"},"transform":[{"filter":"datum.f=='agrA'||datum.f=='S875'||datum.f=='S876'"}],
  "mark":{"type":"text","align":"center","baseline":"middle"},
  "encoding":{"x":{"field":"m","type":"quantitative","scale":{"domain":[2096251,2098750],"range":[20,1004],"nice":false,"zero":false},"axis":null},
   "y":{"datum":175.5,"type":"quantitative","scale":{"domain":[0,200],"range":[400,200],"nice":false},"axis":null},"text":{"field":"f"}}},
 {"data":{"name":"feat"},"transform":[{"filter":"datum.f=='S874'||(datum.f=='scrB'&&datum.s>2097900)"}],
  "mark":{"type":"text","align":"center","baseline":"middle"},
  "encoding":{"x":{"field":"m","type":"quantitative","scale":{"domain":[2096251,2098750],"range":[20,1004],"nice":false,"zero":false},"axis":null},
   "y":{"datum":124.8,"type":"quantitative","scale":{"domain":[0,200],"range":[400,200],"nice":false},"axis":null},"text":{"field":"f"}}},
 {"data":{"name":"feat"},"transform":[{"filter":"datum.f=='D926'||datum.f=='D928'"}],
  "mark":{"type":"text","align":"right","baseline":"middle","dx":-1},
  "encoding":{"x":{"field":"s","type":"quantitative","scale":{"domain":[2096251,2098750],"range":[20,1004],"nice":false,"zero":false},"axis":null},
   "y":{"datum":42.5,"type":"quantitative","scale":{"domain":[0,200],"range":[400,200],"nice":false},"axis":null},"text":{"field":"f"}}},
 {"data":{"name":"feat"},"transform":[{"filter":"datum.f=='D927'||datum.f=='D929'"}],
  "mark":{"type":"text","align":"left","baseline":"middle","dx":-1},
  "encoding":{"x":{"field":"e","type":"quantitative","scale":{"domain":[2096251,2098750],"range":[20,1004],"nice":false,"zero":false},"axis":null},
   "y":{"datum":24.5,"type":"quantitative","scale":{"domain":[0,200],"range":[400,200],"nice":false},"axis":null},"text":{"field":"f"}}},
 {"data":{"values":[{"x":2096522,"t":"U1098.SigA.M3"}]},
  "mark":{"type":"text","align":"left","baseline":"middle"},
  "encoding":{"x":{"field":"x","type":"quantitative","scale":{"domain":[2096251,2098750],"range":[20,1004],"nice":false,"zero":false},"axis":null},
   "y":{"datum":16.7,"type":"quantitative","scale":{"domain":[0,200],"range":[400,200],"nice":false},"axis":null},"text":{"field":"t"}}}
]},
{"resolve":{"scale":{"color":"independent"}},"layer":[
 {"data":{"values":[{"s":2096251,"e":2098750,"r":21},{"s":2097241,"e":2098750,"r":42},{"s":2097241,"e":2098750,"r":36}]},
  "mark":{"type":"rule","color":"black"},
  "encoding":{"x":{"field":"s","type":"quantitative","scale":{"domain":[2096251,2098750],"range":[20,1004],"nice":false,"zero":false},"axis":null},"x2":{"field":"e"},
   "y":{"field":"r","type":"quantitative","scale":{"domain":[0,100],"range":[520,420],"nice":false},"axis":null}}},
 {"data":{"name":"top"},"transform":[{"fold":["t1","t2","t3","t4","t5","t6","t7","t8","t9","t10","t11","t12","t13","t14","t15"],"as":["s","v"]}],
  "mark":{"type":"line","strokeWidth":1,"yOffset":3},
  "encoding":{"x":{"field":"x","type":"quantitative","scale":{"domain":[2096251,2098750],"range":[20,1004],"nice":false,"zero":false},"axis":null},
   "y":{"field":"v","type":"quantitative","scale":{"domain":[0,100],"range":[520,420],"nice":false},"axis":null},
   "color":{"field":"s","type":"nominal","scale":{"domain":["t1","t2","t3","t4","t5","t6","t7","t8","t9","t10","t11","t12","t13","t14","t15"],"range":["#E8641E","#993399","#66BBEE","#B87333","#DD2222","#AACC00","#CC88BB","#999922","#FF7755","#889900","#D2691E","#66DD00","#993333","#CC3366","#555555"]},"legend":null}}},
 {"data":{"name":"top"},"transform":[{"fold":["t1","t2","t3","t4","t5","t6","t7","t8","t9","t10","t11","t12","t13","t14","t15"],"as":["s","v"]}],
  "mark":{"type":"line","strokeWidth":1},
  "encoding":{"x":{"field":"x","type":"quantitative","scale":{"domain":[2096251,2098750],"range":[20,1004],"nice":false,"zero":false},"axis":null},
   "y":{"field":"v","type":"quantitative","scale":{"domain":[0,100],"range":[520,420],"nice":false},"axis":null},
   "color":{"field":"s","type":"nominal","scale":{"domain":["t1","t2","t3","t4","t5","t6","t7","t8","t9","t10","t11","t12","t13","t14","t15"],"range":["#CC88BB","#E8641E","#DD2222","#993399","#999922","#B87333","#66BBEE","#66DD00","#000066","#00EE00","#889900","#AACC00","#FF7755","#993333","#000000"]},"legend":null}}}
]},
{"resolve":{"scale":{"color":"independent"}},"layer":[
 {"data":{"values":[{"s":2096238,"e":2096632,"r":45},{"s":2096238,"e":2098768,"r":37.5},{"s":2096238,"e":2098768,"r":22.7}]},
  "mark":{"type":"rule","color":"black"},
  "encoding":{"x":{"field":"s","type":"quantitative","scale":{"domain":[2096251,2098750],"range":[20,1004],"nice":false,"zero":false},"axis":null},"x2":{"field":"e"},
   "y":{"field":"r","type":"quantitative","scale":{"domain":[0,100],"range":[600,500],"nice":false},"axis":null}}},
 {"data":{"name":"bot"},"transform":[{"fold":["b1","b2","b3","b4","b5","b6","b7","b8","b9","b10","b11","b12","b13","b14","b15"],"as":["s","v"]}],
  "mark":{"type":"line","strokeWidth":1,"yOffset":3},
  "encoding":{"x":{"field":"x","type":"quantitative","scale":{"domain":[2096251,2098750],"range":[20,1004],"nice":false,"zero":false},"axis":null},
   "y":{"field":"v","type":"quantitative","scale":{"domain":[0,100],"range":[600,500],"nice":false},"axis":null},
   "color":{"field":"s","type":"nominal","scale":{"domain":["b1","b2","b3","b4","b5","b6","b7","b8","b9","b10","b11","b12","b13","b14","b15"],"range":["#CC3322","#999900","#E8641E","#66CC00","#990099","#66BBEE","#AA5522","#CC88BB","#993344","#DDAA66","#D2691E","#FF6644","#00EE00","#000066","#333333"]},"legend":null}}},
 {"data":{"name":"bot"},"transform":[{"fold":["b1","b2","b3","b4","b5","b6","b7","b8","b9","b10","b11","b12","b13","b14","b15"],"as":["s","v"]}],
  "mark":{"type":"line","strokeWidth":1},
  "encoding":{"x":{"field":"x","type":"quantitative","scale":{"domain":[2096251,2098750],"range":[20,1004],"nice":false,"zero":false},"axis":null},
   "y":{"field":"v","type":"quantitative","scale":{"domain":[0,100],"range":[600,500],"nice":false},"axis":null},
   "color":{"field":"s","type":"nominal","scale":{"domain":["b1","b2","b3","b4","b5","b6","b7","b8","b9","b10","b11","b12","b13","b14","b15"],"range":["#E8641E","#CC3322","#990099","#999900","#66CC00","#66BBEE","#CC88BB","#AA5522","#DDAA66","#993344","#FF6644","#D2691E","#000066","#00EE00","#000000"]},"legend":null}}}
]},
{"layer":[
 {"data":{"values":[{"r":109.7},{"r":102.7},{"r":31.7},{"r":24.7}]},
  "mark":{"type":"rule","color":"#9E6464"},
  "encoding":{"x":{"datum":2096251,"type":"quantitative","scale":{"domain":[2096251,2098750],"range":[20,1004],"nice":false,"zero":false},"axis":null},"x2":{"datum":2098750},
   "y":{"field":"r","type":"quantitative","scale":{"domain":[0,140],"range":[740,600],"nice":false},"axis":null}}},
 {"data":{"name":"cur"},"transform":[{"fold":["gk_u","gg_u","gk_l","gg_l"],"as":["s","v"]}],
  "mark":{"type":"line","strokeWidth":1,"yOffset":2.5},
  "encoding":{"x":{"field":"x","type":"quantitative","scale":{"domain":[2096251,2098750],"range":[20,1004],"nice":false,"zero":false},"axis":null},
   "y":{"field":"v","type":"quantitative","scale":{"domain":[0,140],"range":[740,600],"nice":false},"axis":null},
   "color":{"field":"s","type":"nominal","scale":{"domain":["gk_u","gg_u","gk_l","gg_l"],"range":["#000000","#008C00","#000000","#008C00"]},"legend":null}}},
 {"data":{"name":"cur"},"transform":[{"fold":["gk_u","gg_u","gk_l","gg_l"],"as":["s","v"]}],
  "mark":{"type":"line","strokeWidth":1.3},
  "encoding":{"x":{"field":"x","type":"quantitative","scale":{"domain":[2096251,2098750],"range":[20,1004],"nice":false,"zero":false},"axis":null},
   "y":{"field":"v","type":"quantitative","scale":{"domain":[0,140],"range":[740,600],"nice":false},"axis":null},
   "color":{"field":"s","type":"nominal","scale":{"domain":["gk_u","gg_u","gk_l","gg_l"],"range":["#000000","#008C00","#000000","#008C00"]},"legend":null}}},
 {"data":{"values":[{"s":2096916,"e":2098750}]},
  "mark":{"type":"rect","color":"#008C00"},
  "encoding":{"x":{"field":"s","type":"quantitative","scale":{"domain":[2096251,2098750],"range":[20,1004],"nice":false,"zero":false},"axis":null},"x2":{"field":"e"},
   "y":{"datum":-33,"type":"quantitative","scale":{"domain":[0,140],"range":[740,600],"nice":false},"axis":null},"y2":{"datum":-43.7}}},
 {"data":{"values":[{"x":2097829,"t":"+"}]},
  "mark":{"type":"text","align":"center","baseline":"middle"},
  "encoding":{"x":{"field":"x","type":"quantitative","scale":{"domain":[2096251,2098750],"range":[20,1004],"nice":false,"zero":false},"axis":null},
   "y":{"datum":-26,"type":"quantitative","scale":{"domain":[0,140],"range":[740,600],"nice":false},"axis":null},"text":{"field":"t"}}}
]},
{"layer":[
 {"data":{"values":[{"r":111.7},{"r":104.7},{"r":34.7},{"r":27.7}]},
  "mark":{"type":"rule","color":"#9E6464"},
  "encoding":{"x":{"datum":2096251,"type":"quantitative","scale":{"domain":[2096251,2098750],"range":[20,1004],"nice":false,"zero":false},"axis":null},"x2":{"datum":2098750},
   "y":{"field":"r","type":"quantitative","scale":{"domain":[0,140],"range":[1000,860],"nice":false},"axis":null}}},
 {"data":{"name":"cur"},"transform":[{"fold":["bk_u","bb_u","bk_l","bb_l"],"as":["s","v"]}],
  "mark":{"type":"line","strokeWidth":1,"yOffset":2.5},
  "encoding":{"x":{"field":"x","type":"quantitative","scale":{"domain":[2096251,2098750],"range":[20,1004],"nice":false,"zero":false},"axis":null},
   "y":{"field":"v","type":"quantitative","scale":{"domain":[0,140],"range":[1000,860],"nice":false},"axis":null},
   "color":{"field":"s","type":"nominal","scale":{"domain":["bk_u","bb_u","bk_l","bb_l"],"range":["#000000","#0033CC","#000000","#0033CC"]},"legend":null}}},
 {"data":{"name":"cur"},"transform":[{"fold":["bk_u","bb_u","bk_l","bb_l"],"as":["s","v"]}],
  "mark":{"type":"line","strokeWidth":1.3},
  "encoding":{"x":{"field":"x","type":"quantitative","scale":{"domain":[2096251,2098750],"range":[20,1004],"nice":false,"zero":false},"axis":null},
   "y":{"field":"v","type":"quantitative","scale":{"domain":[0,140],"range":[1000,860],"nice":false},"axis":null},
   "color":{"field":"s","type":"nominal","scale":{"domain":["bk_u","bb_u","bk_l","bb_l"],"range":["#000000","#0033CC","#000000","#0033CC"]},"legend":null}}}
]},
{"layer":[
 {"data":{"values":[{"r":105},{"r":97.7},{"r":27.7},{"r":20.7}]},
  "mark":{"type":"rule","color":"#9E6464"},
  "encoding":{"x":{"datum":2096251,"type":"quantitative","scale":{"domain":[2096251,2098750],"range":[20,1004],"nice":false,"zero":false},"axis":null},"x2":{"datum":2098750},
   "y":{"field":"r","type":"quantitative","scale":{"domain":[0,140],"range":[1250,1110],"nice":false},"axis":null}}},
 {"data":{"name":"cur"},"transform":[{"fold":["rk_u","rr_u","rk_l","rr_l"],"as":["s","v"]}],
  "mark":{"type":"line","strokeWidth":1,"yOffset":2.5},
  "encoding":{"x":{"field":"x","type":"quantitative","scale":{"domain":[2096251,2098750],"range":[20,1004],"nice":false,"zero":false},"axis":null},
   "y":{"field":"v","type":"quantitative","scale":{"domain":[0,140],"range":[1250,1110],"nice":false},"axis":null},
   "color":{"field":"s","type":"nominal","scale":{"domain":["rk_u","rr_u","rk_l","rr_l"],"range":["#000000","#CC0000","#000000","#CC0000"]},"legend":null}}},
 {"data":{"name":"cur"},"transform":[{"fold":["rk_u","rr_u","rk_l","rr_l"],"as":["s","v"]}],
  "mark":{"type":"line","strokeWidth":1.3},
  "encoding":{"x":{"field":"x","type":"quantitative","scale":{"domain":[2096251,2098750],"range":[20,1004],"nice":false,"zero":false},"axis":null},
   "y":{"field":"v","type":"quantitative","scale":{"domain":[0,140],"range":[1250,1110],"nice":false},"axis":null},
   "color":{"field":"s","type":"nominal","scale":{"domain":["rk_u","rr_u","rk_l","rr_l"],"range":["#000000","#CC0000","#000000","#CC0000"]},"legend":null}}}
]},
{"layer":[
 {"data":{"values":[{"r":107.3},{"r":100},{"r":33},{"r":25}]},
  "mark":{"type":"rule","color":"#9E6464"},
  "encoding":{"x":{"datum":2096251,"type":"quantitative","scale":{"domain":[2096251,2098750],"range":[20,1004],"nice":false,"zero":false},"axis":null},"x2":{"datum":2098750},
   "y":{"field":"r","type":"quantitative","scale":{"domain":[0,150],"range":[1510,1360],"nice":false},"axis":null}}},
 {"data":{"name":"cur"},"transform":[{"fold":["yk_u","yy_u","yk_l","yy_l"],"as":["s","v"]}],
  "mark":{"type":"line","strokeWidth":1,"yOffset":2.5},
  "encoding":{"x":{"field":"x","type":"quantitative","scale":{"domain":[2096251,2098750],"range":[20,1004],"nice":false,"zero":false},"axis":null},
   "y":{"field":"v","type":"quantitative","scale":{"domain":[0,150],"range":[1510,1360],"nice":false},"axis":null},
   "color":{"field":"s","type":"nominal","scale":{"domain":["yk_u","yy_u","yk_l","yy_l"],"range":["#000000","#CCCC00","#000000","#CCCC00"]},"legend":null}}},
 {"data":{"name":"cur"},"transform":[{"fold":["yk_u","yy_u","yk_l","yy_l"],"as":["s","v"]}],
  "mark":{"type":"line","strokeWidth":1.3},
  "encoding":{"x":{"field":"x","type":"quantitative","scale":{"domain":[2096251,2098750],"range":[20,1004],"nice":false,"zero":false},"axis":null},
   "y":{"field":"v","type":"quantitative","scale":{"domain":[0,150],"range":[1510,1360],"nice":false},"axis":null},
   "color":{"field":"s","type":"nominal","scale":{"domain":["yk_u","yy_u","yk_l","yy_l"],"range":["#000000","#CCCC00","#000000","#CCCC00"]},"legend":null}}}
]}
]
}
